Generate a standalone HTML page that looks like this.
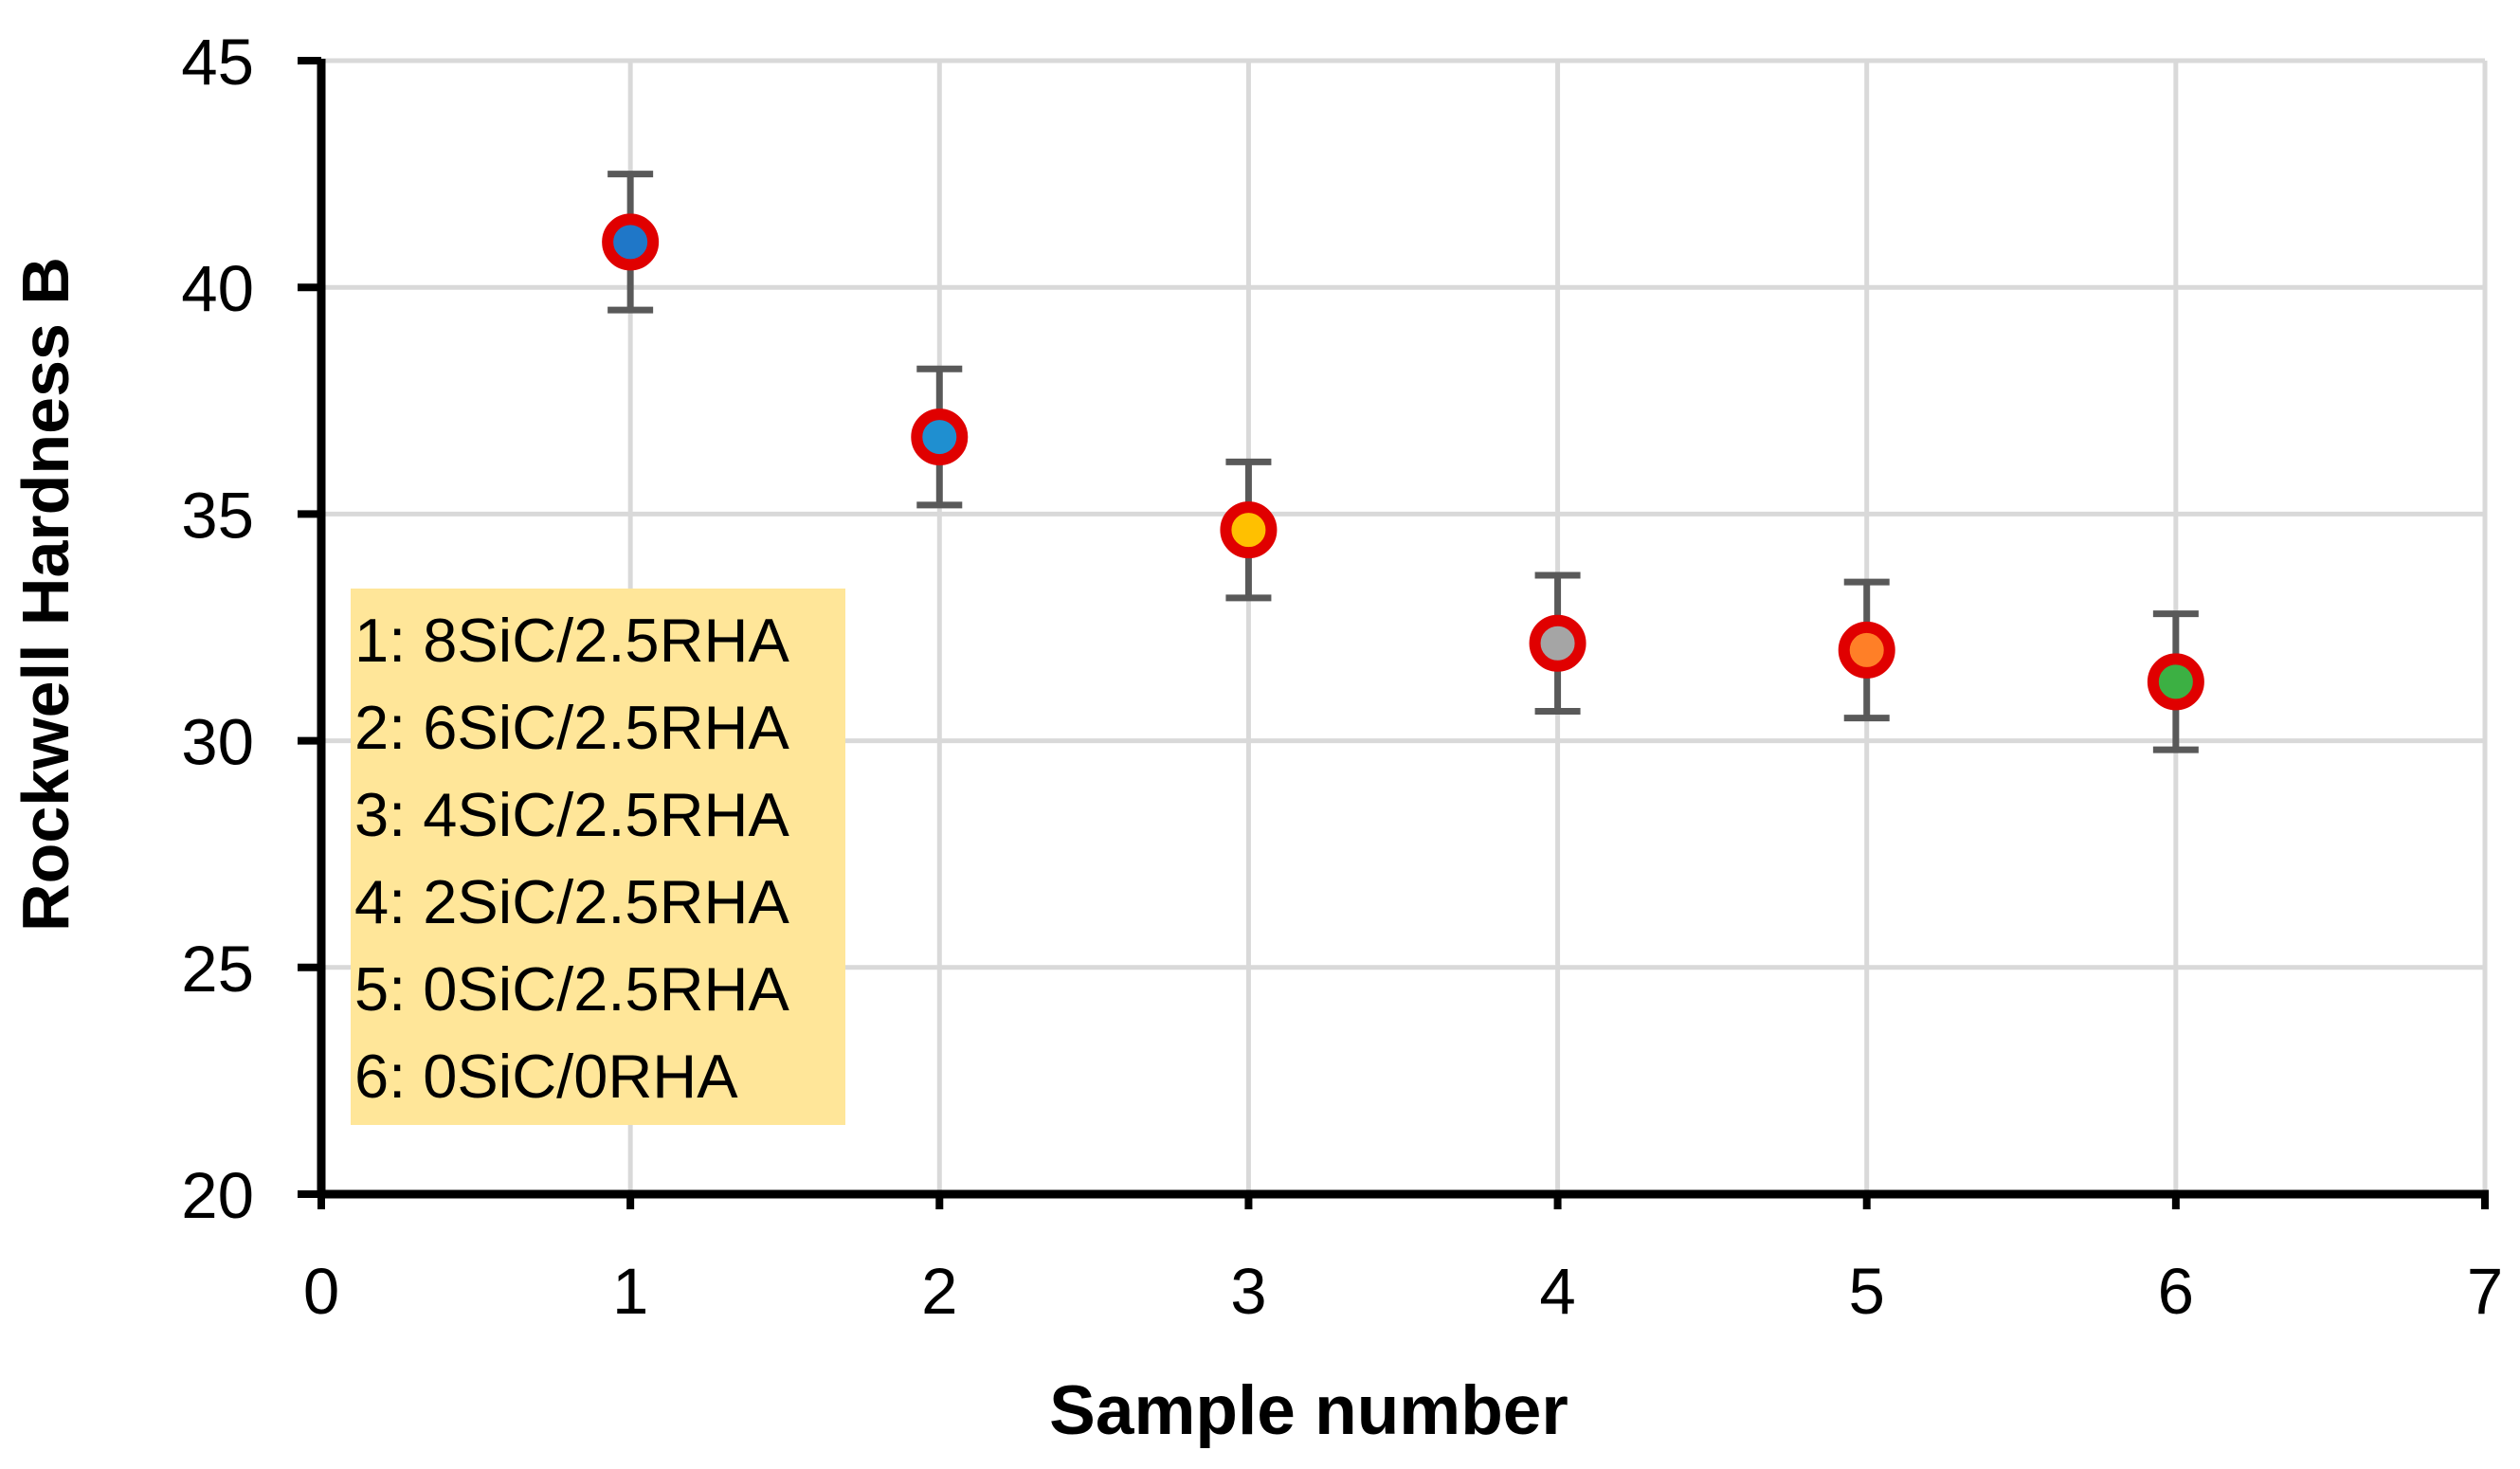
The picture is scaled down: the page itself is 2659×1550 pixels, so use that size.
<!DOCTYPE html>
<html><head><meta charset="utf-8"><style>
html,body{margin:0;padding:0;background:#fff;}
svg{display:block;font-family:"Liberation Sans",sans-serif;}
</style></head><body>
<svg id="chart" width="2659" height="1550" viewBox="0 0 2659 1550" xmlns="http://www.w3.org/2000/svg">
<g id="grid"></g>
<g id="axes"></g>
<g id="legendbox">
<rect x="370" y="621" width="522" height="566" fill="#FFE699"/>
</g>
<g id="marks"></g>
<text x="1381" y="1513" font-size="73" font-weight="bold" text-anchor="middle">Sample number</text>
<text transform="translate(72,627) rotate(-90)" font-size="70" font-weight="bold" text-anchor="middle">Rockwell Hardness B</text>
</svg>
<script>
const samples=[1,2,3,4,5,6];
const hardness=[41.0,36.7,34.65,32.15,32.0,31.3];
const errors=[1.5,1.5,1.5,1.5,1.5,1.5];
const fills=["#1F77C8","#1F8FD0","#FFC000","#A5A5A5","#FF7F27","#3CB043"];
const xTicks=[0,1,2,3,4,5,6,7];
const yTicks=[20,25,30,35,40,45];
const legendLabels=["1: 8SiC/2.5RHA","2: 6SiC/2.5RHA","3: 4SiC/2.5RHA","4: 2SiC/2.5RHA","5: 0SiC/2.5RHA","6: 0SiC/0RHA"];
const NS="http://www.w3.org/2000/svg";
const X0=339,X1=2622,Y0=1260,Y1=64;
function sx(v){return X0+(v-0)/(7-0)*(X1-X0);}
function sy(v){return Y0-(v-20)/(45-20)*(Y0-Y1);}
function mk(tag,attrs,parent){const e=document.createElementNS(NS,tag);for(const k in attrs)e.setAttribute(k,attrs[k]);parent.appendChild(e);return e;}
const grid=document.getElementById('grid'),axes=document.getElementById('axes'),marks=document.getElementById('marks'),lg=document.getElementById('legendbox');
yTicks.forEach(t=>{
 if(t>20){const l=mk('line',{x1:X0,x2:X1,y1:sy(t),y2:sy(t),stroke:'#d9d9d9','stroke-width':5},grid);
 
 }
 const tk=mk('line',{x1:314,x2:X0,y1:sy(t),y2:sy(t),stroke:'#000','stroke-width':8},axes);
 
 
 const tx=mk('text',{x:268,y:sy(t)+25,'font-size':69,'text-anchor':'end',fill:'#000'},axes);tx.textContent=t;
 
 
});
xTicks.forEach(t=>{
 if(t>0){const l=mk('line',{x1:sx(t),x2:sx(t),y1:Y1,y2:Y0,stroke:'#d9d9d9','stroke-width':5},grid);
 
 }
 const tk=mk('line',{x1:sx(t),x2:sx(t),y1:Y0,y2:1276,stroke:'#000','stroke-width':8},axes);
 
 
 const tx=mk('text',{x:sx(t),y:1386,'font-size':69,'text-anchor':'middle',fill:'#000'},axes);tx.textContent=t;
 
 
});
const ya=mk('line',{x1:X0,x2:X0,y1:Y1-2,y2:Y0+4,stroke:'#000','stroke-width':9},axes);


const xa=mk('line',{x1:X0-4,x2:X1+4,y1:Y0,y2:Y0,stroke:'#000','stroke-width':9},axes);


legendLabels.forEach((s,i)=>{
 const t=mk('text',{x:374,y:698+i*92,'font-size':65,fill:'#000'},lg);t.textContent=s;
 
 
});
samples.forEach((s,i)=>{
 const x=sx(s),yt=sy(hardness[i]+errors[i]),yb=sy(hardness[i]-errors[i]);
 const g=mk('g',{},marks);
 
 
 mk('line',{x1:x,x2:x,y1:yt,y2:yb,stroke:'#595959','stroke-width':7},g);
 mk('line',{x1:x-24,x2:x+24,y1:yt,y2:yt,stroke:'#595959','stroke-width':7},g);
 mk('line',{x1:x-24,x2:x+24,y1:yb,y2:yb,stroke:'#595959','stroke-width':7},g);
 mk('circle',{cx:x,cy:sy(hardness[i]),r:24,fill:fills[i],stroke:'#E00000','stroke-width':12},g);
});
</script>
</body></html>
